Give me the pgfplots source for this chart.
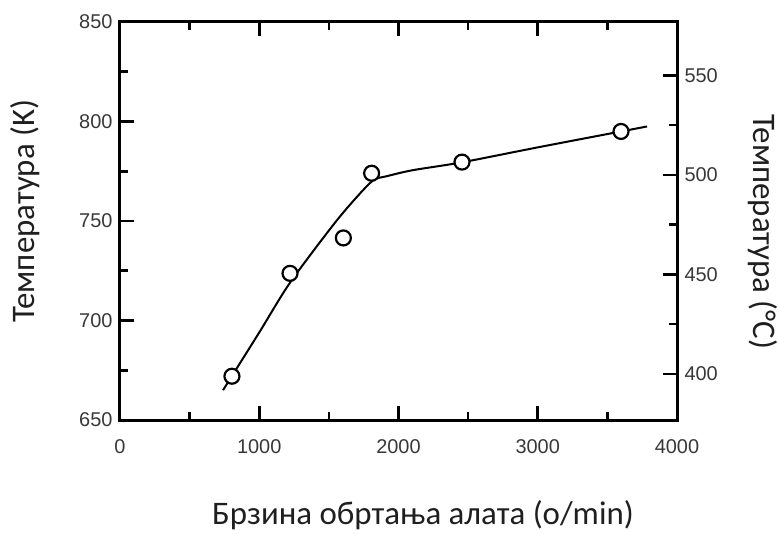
\documentclass[border=0pt]{standalone}
\usepackage{pgfplots}
\pgfplotsset{compat=1.18}
\usepackage{fontspec}
\setmainfont{Carlito}
\newfontfamily\tickfont{Liberation Sans}
\pgfplotsset{
  frame/.style={
    axis line style={line width=3bp, black},
    every outer x axis line/.append style={line width=3bp},
    every outer y axis line/.append style={line width=3bp},
    every tick/.append style={line width=2.6bp, black},
    every major tick/.append style={line width=2.6bp, black},
    every minor tick/.append style={line width=2.6bp, black},
  },
}

\begin{document}
\begin{tikzpicture}
\useasboundingbox (-120bp,-114bp) rectangle (659bp,420bp);
% main axis: K
\begin{axis}[
  frame,
  at={(0,0)}, anchor=south west,
  scale only axis, width=557bp, height=398bp,
  xmin=0, xmax=4000, ymin=650, ymax=850,
  xtick={0,1000,2000,3000,4000},
  minor xtick={500,1500,2500,3500},
  ytick={650,700,750,800,850},
  minor ytick={675,725,775,825},
  xtick pos=both, ytick pos=left,
  tick align=inside,
  major tick length=14bp, minor tick length=8bp,
  /pgf/number format/assume math mode=true,
  /pgf/number format/1000 sep={},
  tick label style={font=\tickfont\fontsize{20}{20}\selectfont, text=black!78},
  xticklabel style={yshift=-16bp},
  yticklabel style={xshift=-4bp},
  xlabel={Брзина обртања алата (o/min)},
  ylabel={Температура (K)},
  label style={font=\fontsize{33}{38}\selectfont, text=black!88},
  xlabel style={at={(axis description cs:0.544,-0.263)}, anchor=base},
  ylabel style={at={(axis description cs:-0.1706,0.525)}, anchor=center, rotate=0},
  clip=false,
]
% fitted curve
\addplot[smooth, tension=0.5, line width=2bp, black] coordinates {
  (740,665) (1000,694) (1221,719) (1531,748) (1700,762) (1820,770.5)
  (1915,772.5) (2100,775.5) (2456,779.5) (3000,787) (3598,795) (3785,797.5)
};
% measured points
\addplot[only marks, mark=*, mark size=7.5bp,
  mark options={fill=white, draw=black, line width=2.2bp}] coordinates {
  (804,672) (1221,723.7) (1604,741.5) (1807,774) (2456,779.6) (3598,795)
};
\end{axis}
% secondary axis: degrees C
\begin{axis}[
  frame,
  at={(0,0)}, anchor=south west,
  scale only axis, width=557bp, height=398bp,
  xmin=0, xmax=4000, ymin=376.85, ymax=576.85,
  axis x line=none, axis y line*=right,
  ytick={400,450,500,550}, minor ytick={425,475,525},
  tick align=inside,
  major tick length=14bp, minor tick length=8bp,
  /pgf/number format/assume math mode=true,
  tick label style={font=\tickfont\fontsize{20}{20}\selectfont, text=black!78},
  yticklabel style={xshift=4bp},
  ylabel={Температура (°C)},
  label style={font=\fontsize{33}{38}\selectfont, text=black!88},
  ylabel style={at={(axis description cs:1.154,0.472)}, anchor=center, rotate=180},
]
\end{axis}
\end{tikzpicture}
\end{document}
